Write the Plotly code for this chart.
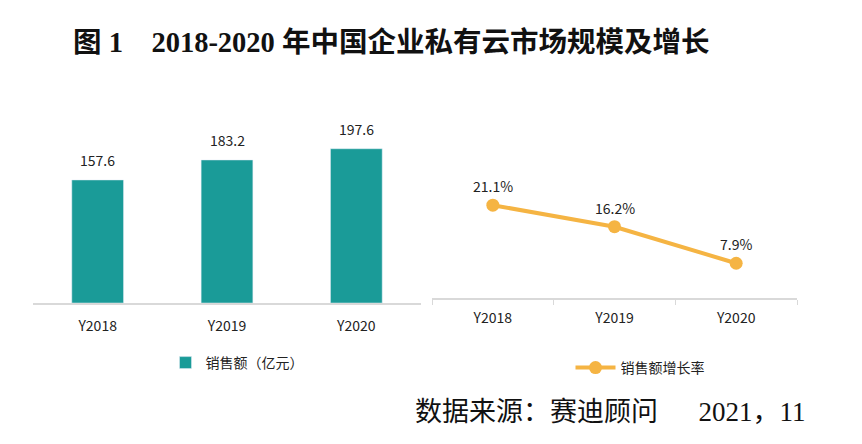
import plotly.graph_objects as go

years = ["Y2018", "Y2019", "Y2020"]
sales = [157.6, 183.2, 197.6]
growth = [21.1, 16.2, 7.9]
growth_labels = ["21.1%", "16.2%", "7.9%"]

W, H = 862, 444
TEAL = "#1a9b98"
ORANGE = "#f5b443"
FONT = "Noto Sans CJK SC"
SERIF = "Liberation Serif, Noto Sans CJK SC"

def px(x):
    return x / W

def py(y):
    return 1 - y / H

fig = go.Figure()
fig.add_trace(go.Bar(
    x=years, y=sales, name="销售额（亿元）", marker_color=TEAL,
    width=0.4, xaxis="x", yaxis="y", legend="legend", showlegend=True,
))
fig.add_trace(go.Scatter(
    x=years, y=growth, name="销售额增长率", mode="lines+markers",
    line=dict(color=ORANGE, width=4), marker=dict(size=13, color=ORANGE),
    xaxis="x2", yaxis="y2", legend="legend2", showlegend=True,
))

ann = []
for x, v in zip(years, sales):
    ann.append(dict(x=x, y=v, xref="x", yref="y", text=f"{v}", showarrow=False,
                    yshift=20, font=dict(size=14, color="#222")))
for x, v, t in zip(years, growth, growth_labels):
    ann.append(dict(x=x, y=v, xref="x2", yref="y2", text=t, showarrow=False,
                    yshift=19, font=dict(size=14, color="#222")))
ann.append(dict(x=px(71), y=py(42), xref="paper", yref="paper", xanchor="left",
                yanchor="middle", showarrow=False,
                text="<b>图 1    2018-2020 年中国企业私有云市场规模及增长</b>",
                font=dict(size=28.5, color="#111", family=SERIF)))
ann.append(dict(x=px(413), y=py(412), xref="paper", yref="paper", xanchor="left",
                yanchor="middle", showarrow=False,
                text="数据来源：赛迪顾问      2021，11",
                font=dict(size=27, color="#111", family=SERIF)))

fig.update_layout(
    width=W, height=H, margin=dict(l=0, r=0, t=0, b=0),
    paper_bgcolor="white", plot_bgcolor="white", showlegend=True,
    font=dict(family=FONT, size=14, color="#222"),
    annotations=ann,
    xaxis=dict(domain=[px(33), px(421)], anchor="y", showgrid=False,
               range=[-0.5, 2.5],
               showline=True, linecolor="#d9d9d9", linewidth=1.5, ticks="",
               ticklabelstandoff=9,
               tickfont=dict(size=14, color="#222"), fixedrange=True),
    yaxis=dict(domain=[py(303), py(100)], range=[0, 260], visible=False,
               anchor="x"),
    xaxis2=dict(domain=[px(432), px(797)], anchor="y2", showgrid=False,
                range=[-0.5, 2.5],
                showline=True, linecolor="#d9d9d9", linewidth=1.5,
                ticks="outside", tickson="boundaries", ticklen=5,
                ticklabelstandoff=6,
                tickcolor="#d9d9d9", tickfont=dict(size=14, color="#222")),
    yaxis2=dict(domain=[py(298), py(100)], range=[0, 45], visible=False,
                anchor="x2"),
    legend=dict(x=px(237), y=py(363), xanchor="center", yanchor="middle",
                orientation="h", font=dict(size=14, color="#222"),
                bgcolor="rgba(0,0,0,0)", visible=True, itemwidth=30),
    legend2=dict(x=px(640), y=py(368), xanchor="center", yanchor="middle",
                 orientation="h", font=dict(size=14, color="#222"),
                 bgcolor="rgba(0,0,0,0)", itemwidth=40, visible=True),
)

fig.write_html("out.html")
